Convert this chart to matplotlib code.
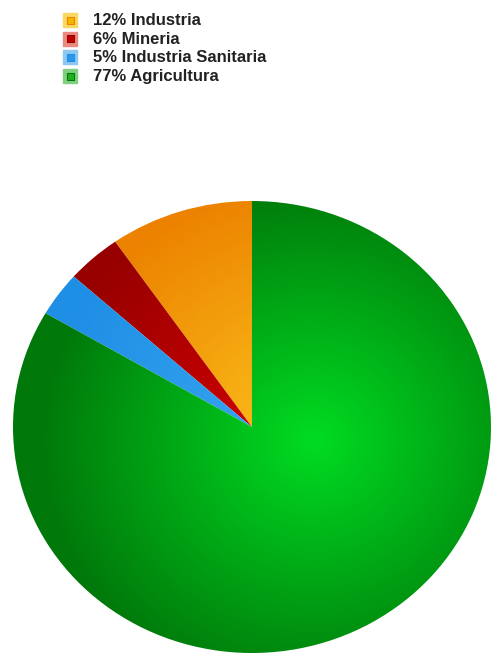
import matplotlib.pyplot as plt
import matplotlib.colors as mcolors
import numpy as np
from matplotlib.patches import Rectangle

# legend labels as printed, and wedge sizes as drawn
labels = ['12% Industria', '6% Mineria', '5% Industria Sanitaria', '77% Agricultura']
values = [9.7, 3.7, 3.2, 83.4]
light = ['#fcc41c', '#d90000', '#3aa8f0', '#00dc22']
dark = ['#ec8200', '#980000', '#1f8fe6', '#00780a']
key_fill = ['#f8d860', '#e88a80', '#8cc8f0', '#80d080']
key_mid = ['#f4b400', '#c00000', '#2a98e8', '#22b022']

W, H = 492, 655
fig = plt.figure(figsize=(W / 100, H / 100), dpi=100)

# pie axes, slightly squashed like the original
cx, cy, rx, ry = 252, 427, 239, 226
ax = fig.add_axes([(cx - rx) / W, (H - cy - ry) / H, 2 * rx / W, 2 * ry / H])
wedges, _ = ax.pie(values, startangle=90, counterclock=True, radius=1,
                   wedgeprops=dict(linewidth=0))

# radial shading, brightest a bit right of the pie centre
n = 400
xs = np.linspace(-1, 1, n)
gx, gy = np.meshgrid(xs, xs)
t = np.clip(np.hypot(gx - 0.26, gy + 0.06) / 1.15, 0, 1)
for w, c0, c1 in zip(wedges, light, dark):
    a = np.array(mcolors.to_rgb(c0))
    b = np.array(mcolors.to_rgb(c1))
    img = a[None, None, :] * (1 - t[..., None]) + b[None, None, :] * t[..., None]
    w.set_facecolor('none')
    im = ax.imshow(img, extent=[-1, 1, -1, 1], origin='lower', zorder=1,
                   interpolation='bilinear', aspect='auto')
    im.set_clip_path(w)
ax.set_aspect('auto')
ax.set_xlim(-1, 1)
ax.set_ylim(-1, 1)
ax.axis('off')

# legend drawn in pixel space
lax = fig.add_axes([0, 0, 1, 1])
lax.set_xlim(0, W)
lax.set_ylim(H, 0)
lax.axis('off')
lax.patch.set_alpha(0)
row0, step = 20, 18.7
for i, lab in enumerate(labels):
    y = row0 + i * step
    lax.add_patch(Rectangle((63, y - 7), 14, 14, facecolor=key_fill[i],
                            edgecolor=key_fill[i], linewidth=1))
    lax.add_patch(Rectangle((66.5, y - 3.5), 7, 7, facecolor=key_mid[i],
                            edgecolor=dark[i], linewidth=0.8))
    lax.text(93, y + 0.5, lab, fontsize=12, fontweight='bold', color='#222222',
             family='Liberation Sans', va='center', ha='left')

fig.savefig('out.png', dpi=100)
